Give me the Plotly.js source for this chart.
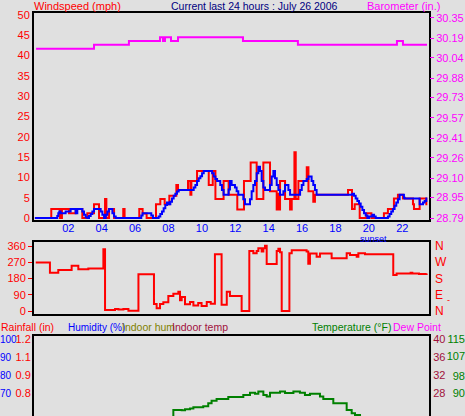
<!DOCTYPE html>
<html><head><meta charset="utf-8">
<script src="https://cdn.plot.ly/plotly-3.0.1.min.js"></script>
<style>html,body{margin:0;padding:0;background:#e0e0e0;overflow:hidden}#chart{width:465px;height:416px;}</style>
</head><body><div id="chart"></div>
<script>
// ---- tick labels ----
const hourTicks = [2, 4, 6, 8, 10, 12, 14, 16, 18, 20, 22];
const hourLabels = ['02', '04', '06', '08', '10', '12', '14', '16', '18', '20', '22'];
const windTicks = [0, 5, 10, 15, 20, 25, 30, 35, 40, 45, 50];
const baroTicks = [28.79, 28.95, 29.10, 29.26, 29.41, 29.57, 29.73, 29.88, 30.04, 30.19, 30.35];
const baroLabels = ['28.79', '28.95', '29.10', '29.26', '29.41', '29.57', '29.73', '29.88', '30.04', '30.19', '30.35'];
const dirTicks = [0, 90, 180, 270, 360];
const compassLabels = ['N', 'E', 'S', 'W', 'N'];
const humTicks = [100, 90, 80, 70, 60];
const rainTickVals = [1.2, 1.075, 0.95, 0.825, 0.7];
const rainTickText = ['1.2', '1.1', '0.9', '0.8', '0.7'];
const tempTicks = [115, 107, 98, 90, 82];
const dewTicks = [40, 36, 32, 28, 24];

// ---- windspeed (mph), hour of day ----
const windTime = [0.0, 0.98, 1.50, 1.62, 2.04, 2.44, 2.84, 3.14, 3.54, 3.84, 4.20, 4.28, 4.44, 4.74, 5.29, 5.37,
  6.25, 6.45, 6.69, 7.25, 7.51, 7.77, 8.05, 8.47, 8.57, 9.17, 9.31, 9.37, 9.71, 10.41, 10.65, 10.81, 11.30, 11.60,
  12.12, 12.52, 12.92, 13.28, 13.68, 14.08, 14.48, 14.58, 14.63, 14.68, 14.98, 15.28, 15.38, 15.54, 15.62, 15.78,
  16.28, 16.38, 16.67, 16.77, 18.75, 18.99, 19.15, 19.45, 19.85, 20.15, 20.90, 21.14, 21.50, 21.74, 22.04, 22.64,
  22.70, 23.04, 23.44, 23.50];
const windSpeed = [0, 2.2, 0, 2.2, 1.2, 2.2, 0, 1.2, 3.4, 0, 4.7, 0, 2.2, 0, 2.2, 0,
  2.2, 1.1, 0, 3.4, 4.7, 3.4, 5.5, 8.1, 6.9, 9.1, 5.7, 9.1, 11.6, 8.1, 11.6, 4.7, 9.1, 5.7,
  2.1, 9.1, 13.7, 4.7, 13.7, 6.6, 2.1, 6.0, 2.1, 9.1, 4.7, 2.1, 4.7, 16.2, 4.7, 9.1,
  12.5, 6.6, 4.0, 5.7, 6.9, 2.2, 3.4, 0, 1.15, 0, 1.15, 2.2, 4.8, 5.7, 4.8, 3.4,
  2.2, 4.8, 3.4, 3.4];

// ---- average windspeed (mph) ----
const avgTime = [0, 1.34, 1.40, 1.46, 1.54, 1.84, 2.14, 2.44, 2.54, 2.84, 2.94, 3.04, 3.14, 3.24, 3.34, 3.44, 3.54,
  3.94, 4.04, 4.14, 4.24, 4.34, 4.44, 4.64, 4.74, 4.84,
  6.37, 6.45, 6.97, 7.07, 7.41, 7.51, 7.61, 7.71, 7.81, 7.91, 8.01, 8.11, 8.21, 8.31, 8.41, 8.51, 8.61,
  9.51, 9.61, 9.71, 9.81, 9.91, 10.01, 10.11, 10.61, 10.71, 10.81, 10.91, 11.10, 11.20, 11.30, 11.60,
  11.68, 11.78, 11.98, 12.08, 12.18, 12.48, 12.58, 12.88, 12.98, 13.08, 13.18, 13.28, 13.38, 13.48, 13.58,
  13.68, 13.78, 14.08, 14.18, 14.28, 14.38, 14.48, 14.58, 14.68, 14.88, 14.98, 15.18, 15.28, 15.88, 15.98,
  16.08, 16.28, 16.38, 16.57, 16.67, 16.77, 16.87,
  18.91, 19.01, 19.11, 19.21, 19.31, 19.41, 19.51, 19.61, 19.71, 19.81, 19.91, 20.01, 20.21, 20.31, 20.41,
  21.14, 21.24, 21.34, 21.44, 21.54, 21.64, 21.74, 21.84, 22.10, 22.14, 23.04, 23.24, 23.34, 23.44, 23.50];
const avgSpeed = [0, 0.5, 1.2, 1.6, 1.15, 1.6, 2.2, 1.2, 2.2, 1.6, 0.8, 0.2, 0, 0.5, 1.0, 1.6, 2.2,
  1.6, 0.8, 0, 0.8, 1.6, 2.2, 1.2, 0.4, 0,
  0.6, 1.15, 0.6, 0, 0.4, 1.0, 1.6, 2.4, 3.2, 3.8, 3.4, 4.0, 4.8, 5.5, 6.0, 6.5, 6.9,
  7.5, 8.1, 9.1, 9.8, 10.3, 11.0, 11.6, 11.0, 10.2, 9.6, 9.1, 8.1, 6.9, 5.7, 7.0,
  9.1, 8.1, 7.5, 6.6, 5.7, 4.6, 3.4, 4.6, 6.6, 8.1, 9.1, 11.0, 12.6, 11.6, 9.1,
  7.5, 6.9, 8.1, 10.2, 11.6, 9.8, 8.1, 6.9, 5.7, 6.6, 8.1, 6.9, 5.7, 6.9, 8.1,
  9.1, 9.6, 10.2, 9.1, 8.1, 6.9, 5.7,
  5.7, 6.0, 5.5, 4.8, 4.2, 3.6, 2.8, 2.0, 1.2, 0.6, 0, 0.4, 0.8, 0.4, 0,
  0.4, 1.0, 1.6, 2.2, 3.0, 3.8, 4.6, 5.7, 5.0, 4.8, 3.4, 3.8, 4.2, 4.8, 4.8];

// ---- barometer (in.) ----
const baroTime = [0.07, 3.54, 5.63, 7.49, 7.67, 7.79, 8.15, 8.57, 12.46, 15.75, 21.68, 22.04, 23.48];
const baroValue = [30.11, 30.14, 30.17, 30.20, 30.17, 30.20, 30.17, 30.20, 30.17, 30.14, 30.17, 30.14, 30.14];

// ---- wind direction (degrees) ----
const dirTime = [0.05, 0.90, 1.40, 2.20, 2.60, 3.20, 4.10, 4.20, 4.80, 5.0, 5.3, 5.60, 6.20, 7.13, 7.29, 7.49, 7.69,
  7.99, 8.29, 8.59, 8.69, 8.79, 8.99, 9.29, 9.49, 9.78, 9.98, 10.29, 10.53, 10.78, 11.18, 11.49, 11.68,
  12.38, 12.84, 13.08, 13.28, 13.38, 13.58, 13.68, 13.78, 13.88, 14.48, 14.58, 14.68, 14.78, 15.24, 15.38,
  16.27, 16.37, 16.47, 16.87, 17.07, 17.77, 18.67, 18.87, 19.17, 19.27, 19.37, 19.77, 21.46, 21.66, 22.5,
  22.6, 23.0, 23.46];
const dirValue = [268, 212, 227, 251, 231, 236, 342, 6, 11, 8, 11, 2, 203, 39, 15, 39, 48,
  83, 95, 107, 60, 78, 38, 50, 30, 45, 28, 50, 40, 314, 35, 107, 83,
  0, 332, 320, 332, 347, 330, 347, 362, 260, 332, 345, 325, 0, 320, 336,
  330, 262, 318, 300, 318, 292, 320, 310, 310, 300, 320, 315, 199, 208, 212,
  208, 205, 208];

// ---- outdoor temperature (F) ----
const tempTime = [8.0, 8.29, 8.79, 8.99, 9.29, 9.49, 10.08, 10.38, 10.58, 10.88, 11.58, 12.48, 12.88, 13.18, 13.38,
  13.68, 13.88, 14.08, 14.68, 14.98, 15.48, 15.87, 16.17, 16.47, 17.07, 17.27, 17.87, 18.67, 18.97, 19.17, 19.47, 19.8];
const tempValue = [78, 82.5, 82.3, 82.8, 83.2, 83.7, 84.2, 85.5, 86.7, 87.5, 88.4, 89.3, 90.4, 89.9, 90.9,
  89.3, 88.6, 90.4, 90.9, 90.2, 90.9, 90.4, 89.3, 89.9, 88.6, 87.5, 85.5, 82.5, 81.0, 80.2, 79, 78];

// ---- layout helpers (pixels -> paper) ----
const W = 465, H = 416;
const px = v => v / W;
const py = v => 1 - v / H;
const FONT = 'Liberation Sans, Arial, sans-serif';
const xDom = [px(34), px(429)];
const xRange = [-0.054, 23.60];

const baseX = {
  domain: xDom, range: xRange, showgrid: false, zeroline: false,
  showline: true, linecolor: '#000', linewidth: 2, ticks: '', fixedrange: true
};
const baseY = { showgrid: false, zeroline: false, fixedrange: true, ticks: '' };

const traces = [
  { x: windTime, y: windSpeed, xaxis: 'x', yaxis: 'y', mode: 'lines', line: { color: '#ff0000', width: 2, shape: 'hv' } },
  { x: avgTime, y: avgSpeed, xaxis: 'x', yaxis: 'y', mode: 'lines', line: { color: '#0000ff', width: 2, shape: 'hv' } },
  { x: baroTime, y: baroValue, xaxis: 'x', yaxis: 'y2', mode: 'lines', line: { color: '#ff00ff', width: 2, shape: 'hv' } },
  { x: dirTime, y: dirValue, xaxis: 'x2', yaxis: 'y3', mode: 'lines', line: { color: '#ff0000', width: 2, shape: 'hv' } },
  { x: [null], y: [null], xaxis: 'x2', yaxis: 'y4', mode: 'lines' },
  { x: [null], y: [null], xaxis: 'x3', yaxis: 'y5', mode: 'lines' },
  { x: [null], y: [null], xaxis: 'x3', yaxis: 'y6', mode: 'lines' },
  { x: tempTime, y: tempValue, xaxis: 'x3', yaxis: 'y7', mode: 'lines', line: { color: '#008000', width: 2, shape: 'hv' } },
  { x: [null], y: [null], xaxis: 'x3', yaxis: 'y8', mode: 'lines' }
];

const ann = (text, x, y, color, xanchor, size) => ({
  text, x: px(x), y: py(y), xref: 'paper', yref: 'paper', showarrow: false,
  xanchor, yanchor: 'middle', font: { family: FONT, size: size || 11, color }, borderpad: 0
});

const layout = {
  width: W, height: H, margin: { l: 0, r: 0, t: 0, b: 0 },
  paper_bgcolor: '#e0e0e0', plot_bgcolor: '#e0e0e0', showlegend: false,
  font: { family: FONT, size: 11 }, hovermode: false,
  xaxis: Object.assign({}, baseX, { anchor: 'y', mirror: true, tickvals: hourTicks, ticktext: hourLabels,
    ticklabelstandoff: -3, tickfont: { color: '#0000ff', size: 11 } }),
  yaxis: Object.assign({}, baseY, { domain: [py(220), py(13)], range: [-0.49, 50.49], anchor: 'x',
    showline: true, linecolor: '#000', linewidth: 2, mirror: true, tickvals: windTicks,
    tickfont: { color: '#ff0000', size: 11 } }),
  yaxis2: Object.assign({}, baseY, { overlaying: 'y', side: 'right', anchor: 'x', range: [28.7746, 30.3884],
    tickvals: baroTicks, ticktext: baroLabels, ticks: 'outside', ticklen: 4, tickcolor: '#ff00ff', tickwidth: 1,
    tickfont: { color: '#ff00ff', size: 11 } }),
  xaxis2: Object.assign({}, baseX, { anchor: 'y3', mirror: true, showticklabels: false }),
  yaxis3: Object.assign({}, baseY, { domain: [py(314), py(242)], range: [-16.6, 382.2], anchor: 'x2',
    showline: true, linecolor: '#000', linewidth: 2, mirror: true, tickvals: dirTicks,
    ticks: 'outside', ticklen: 4, tickcolor: '#ff0000', tickfont: { color: '#ff0000', size: 11 } }),
  yaxis4: Object.assign({}, baseY, { overlaying: 'y3', side: 'right', anchor: 'x2', range: [-16.6, 382.2],
    tickvals: dirTicks, ticktext: compassLabels, ticklabelstandoff: 5, tickfont: { color: '#ff0000', size: 12 } }),
  xaxis3: Object.assign({}, baseX, { anchor: 'y5', side: 'top', mirror: false, showticklabels: false }),
  yaxis5: Object.assign({}, baseY, { domain: [0, py(336)], range: [0.6653, 1.2208], anchor: 'x3',
    showline: true, linecolor: '#000', linewidth: 2, tickvals: rainTickVals, ticktext: rainTickText,
    ticklabelstandoff: -1, tickfont: { color: '#ff0000', size: 11 } }),
  yaxis6: Object.assign({}, baseY, { overlaying: 'y5', side: 'right', anchor: 'free', position: 0,
    range: [57.22, 101.67], tickvals: humTicks, ticklabelstandoff: -1, tickfont: { color: '#0000ff', size: 10 } }),
  yaxis7: Object.assign({}, baseY, { overlaying: 'y5', side: 'left', anchor: 'free', position: 1,
    range: [79.71, 116.375], tickvals: tempTicks, tickfont: { color: '#008000', size: 11 } }),
  yaxis8: Object.assign({}, baseY, { overlaying: 'y5', side: 'right', anchor: 'x3', range: [22.89, 40.667],
    showline: true, linecolor: '#000', linewidth: 2, tickvals: dewTicks, tickfont: { color: '#a0103c', size: 11 } }),
  annotations: [
    ann('Windspeed (mph)', 33, 6, '#ff0000', 'left'),
    ann('Current last 24 hours : July 26 2006', 254.5, 6, '#000080', 'center', 10.5),
    ann('Barometer (in.)', 441, 6, '#ff00ff', 'right'),
    ann('sunset', 373, 239, '#0000ff', 'center', 9),
    ann('-', 448, 300, '#ff0000', 'center', 9),
    ann('Rainfall (in)', 0, 327, '#ff0000', 'left', 10.5),
    ann('Humidity (%)', 67, 327, '#0000ff', 'left', 10),
    ann('Indoor hum', 121, 327, '#808000', 'left', 10.5),
    ann('Indoor temp', 171, 327, '#a0103c', 'left', 10.5),
    ann('Temperature (\u00b0F)', 392, 327, '#008000', 'right', 10.5),
    ann('Dew Point', 392, 327, '#ff00ff', 'left', 10.5)
  ]
};

Plotly.newPlot('chart', traces, layout, { staticPlot: true, displayModeBar: false });
</script>
</body></html>
